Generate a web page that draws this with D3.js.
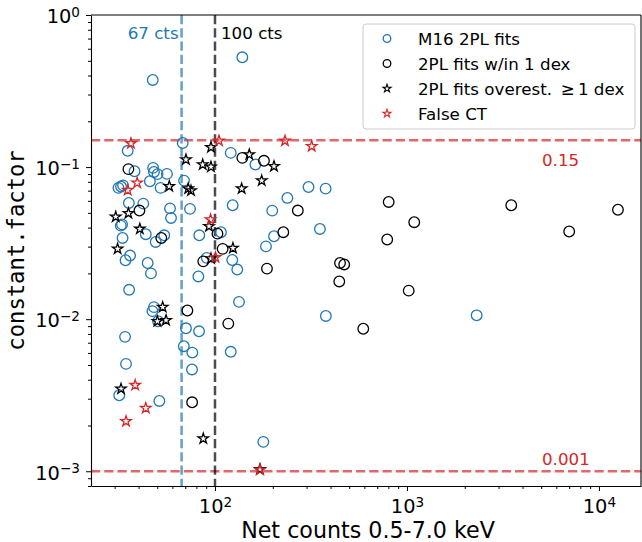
<!DOCTYPE html>
<html>
<head>
<meta charset="utf-8">
<script src="https://cdn.jsdelivr.net/npm/d3@7"></script>
<style>
  body { margin: 0; background: #fff; }
  svg { display: block; font-family: "DejaVu Sans", sans-serif; }
</style>
</head>
<body>
<svg id="chart"></svg>
<script>
// [net counts, constant.factor]
const m16Fits = [
  [47.4,0.374],[138.8,0.527],[35.1,0.128],[67.9,0.144],[120.8,0.124],[162.4,0.104],
  [38.1,0.0939],[47.6,0.0988],[48.1,0.0929],[50.2,0.0899],[56.2,0.0902],[45.8,0.0807],
  [69.0,0.0815],[52.1,0.0730],[31.4,0.0730],[32.4,0.0745],[33.2,0.0758],[42.3,0.0575],
  [35.6,0.0581],[58.3,0.0535],[59.0,0.0463],[74.1,0.0531],[32.3,0.0412],[32.8,0.0420],
  [33.0,0.0342],[43.6,0.0362],[54.4,0.0356],[49.1,0.0322],[36.1,0.0262],[34.2,0.0244],
  [44.6,0.0234],[46.4,0.0200],[35.7,0.0156],[48.1,0.0120],[47.2,0.0113],[50.5,0.00969],
  [82.8,0.0356],[107.4,0.0373],[90.6,0.0253],[81.9,0.0191],[123.6,0.0561],[198.7,0.0517],
  [238.2,0.0627],[307,0.0740],[377,0.0722],[202.9,0.0351],[184.3,0.0301],[123,0.0245],
  [130.6,0.0212],[133.4,0.0130],[70.6,0.00871],[352,0.0392],[378,0.0105],[2307,0.0106],
  [34.0,0.00765],[34.4,0.00508],[31.7,0.00316],[51.3,0.00290],[82.6,0.00832],[68.8,0.00664],
  [76.2,0.00603],[75.9,0.00467],[120.8,0.00610],[178.5,0.00156]
];
const withinDex = [
  [35.4,0.0970],[138.8,0.115],[179.9,0.110],[40.4,0.0518],[52.5,0.0342],[103,0.0365],
  [109.6,0.0290],[86.9,0.0240],[270,0.0518],[226.9,0.0373],[186.5,0.0215],[71.8,0.0114],
  [117.3,0.00935],[76,0.00284],[803,0.0590],[1091,0.0434],[789,0.0334],[448,0.0234],
  [471,0.0229],[444,0.0177],[1021,0.0154],[592,0.00865],[3493,0.0561],[6998,0.0377],
  [12560,0.0524]
];
const overEst = [
  [70.6,0.112],[95.3,0.135],[86.3,0.1038],[95.3,0.1003],[150.9,0.121],[202.9,0.1012],
  [175.1,0.0815],[57.8,0.0748],[72.5,0.0722],[75.0,0.0700],[137.7,0.0722],[30.4,0.0471],
  [35.4,0.0497],[40.6,0.0392],[31.1,0.0290],[93.1,0.0408],[124,0.0293],[95.3,0.0250],
  [53.4,0.0120],[55.6,0.00984],[50.1,0.00969],[32.4,0.00348],[86.9,0.00164],[171.5,0.00103]
];
const falseCT = [
  [36.5,0.143],[104.9,0.149],[231.5,0.149],[319,0.137],[39.3,0.0787],[35.1,0.0705],
  [94.8,0.0452],[100.6,0.0255],[38.4,0.00368],[43.6,0.00260],[34.4,0.00213],[171.5,0.00102]
];

const countCuts = [67, 100];
const cutLabels = ["67 cts", "100 cts"];
const factorCuts = [0.15, 0.001];
const factorLabels = ["0.15", "0.001"];

const xMajor = [1e2, 1e3, 1e4];
const yMajor = [1e-3, 1e-2, 1e-1, 1];

const legendLabels = ["M16 2PL fits", "2PL fits w/in 1 dex",
  "2PL fits overest.\u00a0\u2009\u2265\u20091 dex", "False CT"];

const W = 642, H = 542;
const margin = {top: 15, right: 1, bottom: 56, left: 91};

const blue = "#1f77b4", red = "#d62728";

const svg = d3.select("#chart").attr("width", W).attr("height", H);

const x = d3.scaleLog().domain([22.6, 16560]).range([margin.left, W - margin.right]);
const y = d3.scaleLog().domain([8e-4, 1]).range([H - margin.bottom, margin.top]);

function expOf(d) { return Math.round(Math.log10(d)); }

// minor ticks
const xMinor = [], yMinor = [];
for (let e = 1; e <= 4; e++) for (let k = 2; k <= 9; k++) {
  const v = k * Math.pow(10, e);
  if (v > x.domain()[0] && v < x.domain()[1]) xMinor.push(v);
}
for (let e = -4; e <= -1; e++) for (let k = 2; k <= 9; k++) {
  const v = k * Math.pow(10, e);
  if (v >= y.domain()[0] && v < y.domain()[1]) yMinor.push(v);
}

// reference lines
const plot = svg.append("g");
plot.selectAll("line.hcut").data(factorCuts).join("line")
  .attr("x1", margin.left).attr("x2", W - margin.right)
  .attr("y1", d => y(d)).attr("y2", d => y(d))
  .attr("stroke", red).attr("stroke-opacity", 0.7)
  .attr("stroke-width", 2.5).attr("stroke-dasharray", "9.25,4");

plot.selectAll("line.vcut").data(countCuts).join("line")
  .attr("x1", d => x(d)).attr("x2", d => x(d))
  .attr("y1", margin.top).attr("y2", H - margin.bottom)
  .attr("stroke", (d, i) => i === 0 ? blue : "#000").attr("stroke-opacity", 0.7)
  .attr("stroke-width", 2.5).attr("stroke-dasharray", "9.25,4");

// labels on reference lines
plot.append("text").attr("x", x(countCuts[0]) - 3).attr("y", 39)
  .attr("text-anchor", "end").attr("font-size", 16.7).attr("fill", blue).text(cutLabels[0]);
plot.append("text").attr("x", x(countCuts[1]) + 6).attr("y", 39)
  .attr("font-size", 16.7).attr("fill", "#000").text(cutLabels[1]);
plot.selectAll("text.fl").data(factorCuts).join("text")
  .attr("x", 542).attr("y", (d, i) => i === 0 ? y(d) + 26 : y(d) - 6)
  .attr("font-size", 16.7).attr("fill", red).text((d, i) => factorLabels[i]);

// points
const star = d3.symbol(d3.symbolStar).size(34);

plot.append("g").selectAll("circle").data(m16Fits).join("circle")
  .attr("cx", d => x(d[0])).attr("cy", d => y(d[1])).attr("r", 5.3)
  .attr("fill", "none").attr("stroke", blue).attr("stroke-width", 1.3);

plot.append("g").selectAll("circle").data(withinDex).join("circle")
  .attr("cx", d => x(d[0])).attr("cy", d => y(d[1])).attr("r", 5.3)
  .attr("fill", "none").attr("stroke", "#000").attr("stroke-width", 1.3);

plot.append("g").selectAll("path").data(overEst).join("path")
  .attr("d", star).attr("transform", d => `translate(${x(d[0])},${y(d[1])})`)
  .attr("fill", "none").attr("stroke", "#000").attr("stroke-width", 1.3);

plot.append("g").selectAll("path").data(falseCT).join("path")
  .attr("d", star).attr("transform", d => `translate(${x(d[0])},${y(d[1])})`)
  .attr("fill", "none").attr("stroke", red).attr("stroke-width", 1.3);

// axes
const yAxis = svg.append("g").attr("transform", `translate(${margin.left},0)`)
  .call(d3.axisLeft(y).tickValues(yMajor).tickSize(5).tickPadding(6).tickSizeOuter(0));
svg.append("g").attr("transform", `translate(${margin.left},0)`)
  .call(d3.axisLeft(y).tickValues(yMinor).tickSize(3).tickSizeOuter(0).tickFormat(""))
  .call(g => g.select(".domain").remove());

const xAxis = svg.append("g").attr("transform", `translate(0,${H - margin.bottom})`)
  .call(d3.axisBottom(x).tickValues(xMajor).tickSize(5).tickPadding(6).tickSizeOuter(0));
svg.append("g").attr("transform", `translate(0,${H - margin.bottom})`)
  .call(d3.axisBottom(x).tickValues(xMinor).tickSize(3).tickSizeOuter(0).tickFormat(""))
  .call(g => g.select(".domain").remove());

svg.selectAll(".tick line").attr("stroke", "#000").attr("stroke-width", 1);
svg.selectAll(".domain").attr("stroke", "#000").attr("stroke-width", 1.1);

function powLabel(sel) {
  sel.each(function(d) {
    const t = d3.select(this).text(null)
      .attr("font-family", "DejaVu Sans").attr("font-size", 19.4).attr("fill", "#000");
    t.append("tspan").text("10");
    const e = expOf(d);
    t.append("tspan").attr("dy", "-0.45em").attr("font-size", 13.6)
      .text(e < 0 ? "\u2212" + (-e) : String(e));
  });
}
yAxis.selectAll(".tick text").call(powLabel).attr("dy", "0.4em");
xAxis.selectAll(".tick text").call(powLabel).attr("dy", "0.82em");

// frame top/right
svg.append("line").attr("x1", margin.left).attr("x2", W - margin.right)
  .attr("y1", margin.top).attr("y2", margin.top).attr("stroke", "#000").attr("stroke-width", 1.1);
svg.append("line").attr("x1", W - margin.right).attr("x2", W - margin.right)
  .attr("y1", margin.top).attr("y2", H - margin.bottom).attr("stroke", "#000").attr("stroke-width", 1.1);

// axis titles
svg.append("text").attr("x", (margin.left + W - margin.right) / 2 + 2).attr("y", 538)
  .attr("text-anchor", "middle").attr("font-size", 22.2).text("Net counts 0.5-7.0 keV");
svg.append("text")
  .attr("transform", `translate(24,${(margin.top + H - margin.bottom) / 2}) rotate(-90)`)
  .attr("text-anchor", "middle").attr("font-size", 22.2)
  .attr("font-family", "DejaVu Sans Mono").text("constant.factor");

// legend
const lg = svg.append("g").attr("transform", "translate(363,24)");
lg.append("rect").attr("width", 272).attr("height", 105).attr("rx", 3)
  .attr("fill", "#fff").attr("fill-opacity", 0.8).attr("stroke", "#cccccc");
const rows = lg.selectAll("g.row").data(legendLabels).join("g")
  .attr("transform", (d, i) => `translate(0,${14.5 + i * 25})`);
rows.each(function(d, i) {
  const g = d3.select(this);
  if (i < 2) {
    g.append("circle").attr("cx", 24).attr("r", 3.8).attr("fill", "none")
      .attr("stroke", i === 0 ? blue : "#000").attr("stroke-width", 1.3);
  } else {
    g.append("path").attr("d", d3.symbol(d3.symbolStar).size(20))
      .attr("transform", "translate(24,0)").attr("fill", "none")
      .attr("stroke", i === 2 ? "#000" : red).attr("stroke-width", 1.1);
  }
  g.append("text").attr("x", 55).attr("y", 6).attr("font-size", 16.7).text(d);
});
</script>
</body>
</html>
